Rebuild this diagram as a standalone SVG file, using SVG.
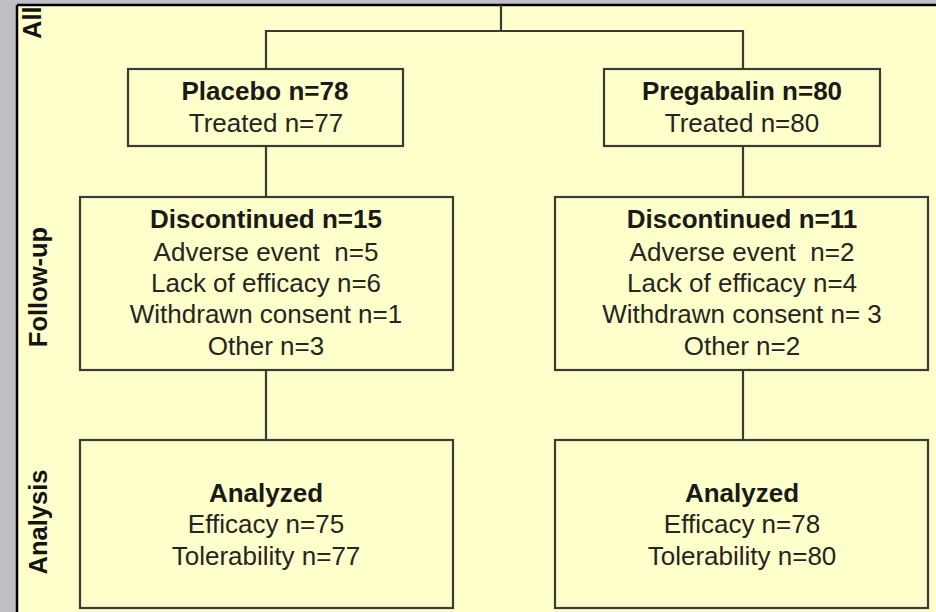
<svg xmlns="http://www.w3.org/2000/svg" width="936" height="612" viewBox="0 0 936 612">
  <style>
    .box { fill: none; stroke: #3a3a36; stroke-width: 2.2; }
    .conn { fill: none; stroke: #3a3a36; stroke-width: 2.2; }
    text { font-family: "Liberation Sans", Arial, sans-serif; font-size: 26px; fill: #252523; text-anchor: middle; }
    .b { font-weight: bold; fill: #1a1a18; }
    .side { font-weight: bold; font-size: 25.5px; fill: #141414; text-anchor: middle; }
  </style>

  <!-- page background and frame -->
  <rect x="0" y="0" width="936" height="612" fill="#bfbfc5"/>
  <rect x="17" y="5" width="919" height="607" fill="#ffffcc"/>
  <line x1="17" y1="5" x2="936" y2="5" stroke="#000" stroke-width="2.5"/>
  <line x1="17" y1="5" x2="17" y2="612" stroke="#000" stroke-width="2.5"/>

  <!-- phase labels -->
  <g id="phase-labels">
    <text class="side" style="text-anchor:start" transform="translate(41 39) rotate(-90)">All</text>
    <text class="side" transform="translate(47 287) rotate(-90)">Follow-up</text>
    <text class="side" transform="translate(47 522) rotate(-90)">Analysis</text>
  </g>

  <!-- connectors -->
  <g id="connectors">
    <polyline class="conn" points="501,5 501,31"/>
    <polyline class="conn" points="266,69 266,31 743,31 743,69"/>
    <line class="conn" x1="266" y1="146" x2="266" y2="197"/>
    <line class="conn" x1="743" y1="146" x2="743" y2="197"/>
    <line class="conn" x1="266" y1="370" x2="266" y2="440"/>
    <line class="conn" x1="743" y1="370" x2="743" y2="440"/>
  </g>

  <g id="placebo">
    <rect class="box" x="128" y="69" width="275" height="77"/>
    <text class="b" x="265" y="100">Placebo n=78</text>
    <text x="266" y="132">Treated n=77</text>
  </g>

  <g id="pregabalin">
    <rect class="box" x="604" y="69" width="276" height="77"/>
    <text class="b" x="742" y="100">Pregabalin n=80</text>
    <text x="742" y="132">Treated n=80</text>
  </g>

  <g id="placebo-discontinued">
    <rect class="box" x="80" y="197" width="373" height="173"/>
    <text class="b" x="266" y="228">Discontinued n=15</text>
    <text x="266" y="261" xml:space="preserve">Adverse event  n=5</text>
    <text x="266" y="292">Lack of efficacy n=6</text>
    <text x="266" y="323">Withdrawn consent n=1</text>
    <text x="266" y="355">Other n=3</text>
  </g>

  <g id="pregabalin-discontinued">
    <rect class="box" x="555" y="197" width="373" height="173"/>
    <text class="b" x="742" y="228">Discontinued n=11</text>
    <text x="742" y="261" xml:space="preserve">Adverse event  n=2</text>
    <text x="742" y="292">Lack of efficacy n=4</text>
    <text x="742" y="323">Withdrawn consent n= 3</text>
    <text x="742" y="355">Other n=2</text>
  </g>

  <g id="placebo-analyzed">
    <rect class="box" x="80" y="440" width="373" height="168"/>
    <text class="b" x="266" y="502">Analyzed</text>
    <text x="266" y="533">Efficacy n=75</text>
    <text x="266" y="565">Tolerability n=77</text>
  </g>

  <g id="pregabalin-analyzed">
    <rect class="box" x="555" y="440" width="373" height="168"/>
    <text class="b" x="742" y="502">Analyzed</text>
    <text x="742" y="533">Efficacy n=78</text>
    <text x="742" y="565">Tolerability n=80</text>
  </g>
</svg>
